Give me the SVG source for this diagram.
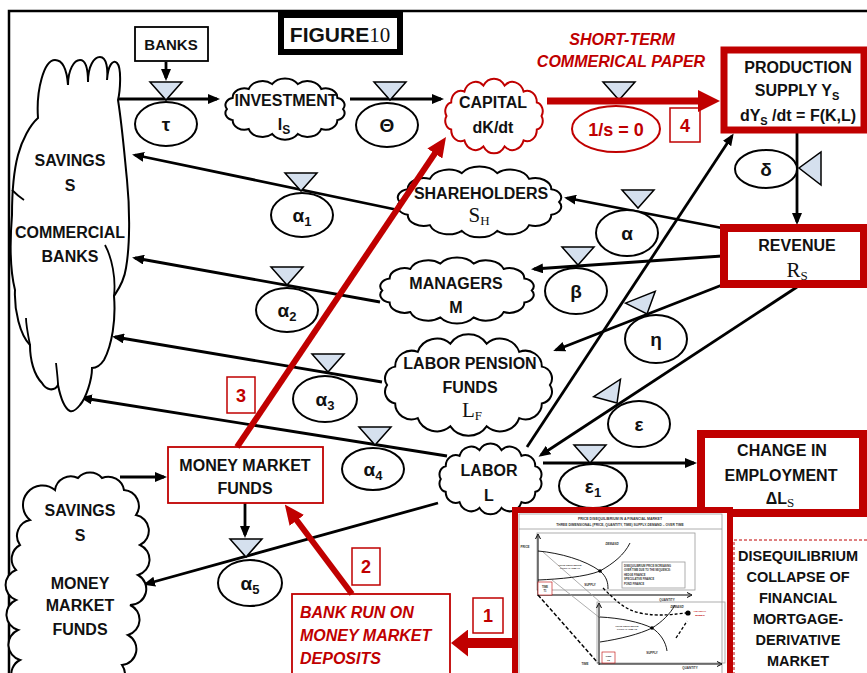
<svg xmlns="http://www.w3.org/2000/svg" width="867" height="673" viewBox="0 0 867 673">
<style>
.t{font-family:"Liberation Sans",Arial,sans-serif;font-weight:bold;font-size:16px;text-anchor:middle;fill:#111}
.g{font-size:19px}
.sr{font-family:"Liberation Serif","Times New Roman",serif;font-weight:normal}
.red{fill:#c00000}
.it{font-style:italic}
.ln{stroke:#000;stroke-width:2.8;fill:none}
.el{fill:#fff;stroke:#000;stroke-width:2}
.tri{fill:#d5e0ee;stroke:#000;stroke-width:1.5}
.cl{fill:#fff;stroke:#000;stroke-width:2}
.rb{fill:#fff;stroke:#c00000}
.tiny{font-family:"Liberation Sans",Arial,sans-serif;font-weight:bold;fill:#333}
.gl{stroke:#999;stroke-width:0.8;fill:none}
</style>
<defs>
<path id="cloud" vector-effect="non-scaling-stroke" d="M94,30 A6.8,6.8 0 0 1 89.64,40.41 A8.9,8.9 0 0 1 77.43,48.76 A10.9,10.9 0 0 1 59.79,53.4 A11.7,11.7 0 0 1 40.21,53.4 A10.9,10.9 0 0 1 22.57,48.76 A8.9,8.9 0 0 1 10.36,40.41 A6.8,6.8 0 0 1 6,30 A6.8,6.8 0 0 1 10.36,19.59 A8.9,8.9 0 0 1 22.57,11.24 A10.9,10.9 0 0 1 40.21,6.6 A11.7,11.7 0 0 1 59.79,6.6 A10.9,10.9 0 0 1 77.43,11.24 A8.9,8.9 0 0 1 89.64,19.59 A6.8,6.8 0 0 1 94,30 Z"/>
<path id="tri" d="M-16,-18 L16,-18 L0,0 Z"/>
<marker id="ak" viewBox="0 0 12 10" refX="9" refY="5" markerWidth="12" markerHeight="10" markerUnits="userSpaceOnUse" orient="auto"><path d="M0,0 L12,5 L0,10 Z" fill="#000"/></marker>
<marker id="ar" viewBox="0 0 22 22" refX="3" refY="11" markerWidth="22" markerHeight="22" markerUnits="userSpaceOnUse" orient="auto"><path d="M0,0 L22,11 L0,22 Z" fill="#c00000"/></marker>
<marker id="ar2" viewBox="0 0 20 18" refX="3" refY="9" markerWidth="20" markerHeight="18" markerUnits="userSpaceOnUse" orient="auto"><path d="M0,0 L20,9 L0,18 Z" fill="#c00000"/></marker>
<marker id="ar3" viewBox="0 0 17 27" refX="2" refY="13.5" markerWidth="17" markerHeight="27" markerUnits="userSpaceOnUse" orient="auto"><path d="M0,0 L17,13.5 L0,27 Z" fill="#c00000"/></marker>
</defs>
<rect width="867" height="673" fill="#fff"/>
<rect x="9" y="11" width="900" height="700" fill="none" stroke="#000" stroke-width="2.5"/>

<g id="connectors">
<line class="ln" x1="166" y1="62" x2="166" y2="78" marker-end="url(#ak)"/>
<line class="ln" x1="118" y1="99" x2="217" y2="99" marker-end="url(#ak)"/>
<line class="ln" x1="350" y1="99" x2="441" y2="99" marker-end="url(#ak)"/>
<line class="ln" x1="398" y1="210" x2="135" y2="155" marker-end="url(#ak)"/>
<line class="ln" x1="380" y1="302" x2="135" y2="258" marker-end="url(#ak)"/>
<line class="ln" x1="382" y1="382" x2="115" y2="337" marker-end="url(#ak)"/>
<line class="ln" x1="447" y1="456" x2="83" y2="398" marker-end="url(#ak)"/>
<line class="ln" x1="722" y1="228" x2="567" y2="198" marker-end="url(#ak)"/>
<line class="ln" x1="722" y1="256" x2="534" y2="269" marker-end="url(#ak)"/>
<line class="ln" x1="722" y1="285" x2="556" y2="350" marker-end="url(#ak)"/>
<line class="ln" x1="797" y1="287" x2="541" y2="455" marker-end="url(#ak)"/>
<line class="ln" x1="527" y1="447" x2="732" y2="136" marker-end="url(#ak)"/>
<line class="ln" x1="797" y1="133" x2="797" y2="222" marker-end="url(#ak)"/>
<line class="ln" x1="543" y1="463" x2="694" y2="463" marker-end="url(#ak)"/>
<line class="ln" x1="120" y1="477" x2="164" y2="477" marker-end="url(#ak)"/>
<line class="ln" x1="245" y1="503" x2="245" y2="535" marker-end="url(#ak)"/>
<line class="ln" x1="438" y1="503" x2="146" y2="584" marker-end="url(#ak)"/>
</g>

<g id="figure-title">
<rect x="281" y="15" width="119" height="37" fill="#fff" stroke="#000" stroke-width="6"/>
<text class="t" x="340" y="42" style="font-size:21px">FIGURE<tspan class="sr" style="font-size:21px">10</tspan></text>
</g>

<g id="banks">
<rect x="135" y="27" width="73" height="34" fill="#fff" stroke="#000" stroke-width="1.8"/>
<text class="t" x="171" y="50" style="font-size:15px">BANKS</text>
</g>

<g id="savings-commercial-banks">
<path class="cl" d="M38,118 C36,90 44,60 55,60 C64,60 67,72 68,85 C68,70 74,60 80,60 C87,60 88,72 88,82 C88,66 94,57 100,57 C107,57 108,70 107,80 C108,65 113,59 117,63 C122,68 120,92 118,100 C122,125 124,150 127,180 C130,210 130,245 126,268 C124,282 118,290 114,296 C116,320 112,345 104,360 C100,366 96,368 92,368 C92,380 86,398 80,405 C76,410 73,412 70,411 C64,408 60,395 58,385 C54,392 46,390 42,383 C34,375 30,360 30,345 C20,335 14,310 15,290 C10,270 10,240 12,215 C12,195 14,170 18,155 C22,140 30,125 38,118 Z"/>
<path d="M105,245 C112,258 116,278 114,296 M56,363 C57,372 58,380 58,385 M24,200 C18,196 14,192 12,190 M30,345 C28,335 26,325 26,318" fill="none" stroke="#000" stroke-width="1.8"/>
<text class="t" x="70" y="166">SAVINGS</text>
<text class="t" x="70" y="191">S</text>
<text class="t" x="70" y="238">COMMERCIAL</text>
<text class="t" x="70" y="262">BANKS</text>
</g>

<g id="tau">
<use href="#tri" class="tri" transform="translate(166,100)"/>
<ellipse class="el" cx="166" cy="124" rx="31" ry="22"/>
<text class="t g" x="166" y="131">τ</text>
</g>

<g id="investment">
<use href="#cloud" class="cl" transform="translate(219,77) scale(1.32,1.067)"/>
<text class="t" x="286" y="106">INVESTMENT</text>
<text class="t" x="284" y="130">I<tspan style="font-size:12px" dy="4">S</tspan></text>
</g>

<g id="theta">
<use href="#tri" class="tri" transform="translate(390,100)"/>
<ellipse class="el" cx="387" cy="125" rx="31" ry="22"/>
<text class="t g" x="387" y="132">Θ</text>
</g>

<g id="capital">
<use href="#cloud" class="cl" style="stroke:#c00000" transform="translate(440,77) scale(1.08,1.3)"/>
<text class="t" x="493" y="108">CAPITAL</text>
<text class="t" x="493" y="133">dK/dt</text>
</g>

<g id="short-term-paper">
<text class="t red it" x="622" y="45">SHORT-TERM</text>
<text class="t red it" x="621" y="67">COMMERICAL PAPER</text>
<use href="#tri" class="tri" transform="translate(619,100)"/>
<ellipse class="el" style="stroke:#c00000" cx="616" cy="129" rx="44" ry="23"/>
<text class="t red" x="616" y="136" style="font-size:18px">1/s = 0</text>
<rect x="670" y="108" width="30" height="34" fill="#fff" stroke="#c00000" stroke-width="1.5"/>
<text class="t red" x="685" y="132" style="font-size:18px">4</text>
</g>

<g id="production">
<rect x="724" y="50" width="140" height="80" fill="#fff" stroke="#c00000" stroke-width="7"/>
<text class="t" x="798" y="73">PRODUCTION</text>
<text class="t" x="797" y="96">SUPPLY Y<tspan style="font-size:11px" dy="4">S</tspan></text>
<text class="t" x="798" y="121">dY<tspan style="font-size:11px" dy="4">S</tspan><tspan dy="-4"> /dt = F(K,L)</tspan></text>
</g>

<g id="delta">
<ellipse class="el" cx="766" cy="169" rx="31" ry="19"/>
<text class="t g" x="766" y="176">δ</text>
<path class="tri" d="M821,152 L821,185 L799,168 Z"/>
</g>

<g id="revenue">
<rect x="724" y="228" width="140" height="56" fill="#fff" stroke="#c00000" stroke-width="8"/>
<text class="t" x="797" y="251">REVENUE</text>
<text class="t sr" x="797" y="277" style="font-size:21px">R<tspan style="font-size:13px" dy="3">S</tspan></text>
</g>

<g id="alpha1">
<use href="#tri" class="tri" transform="translate(301,191)"/>
<ellipse class="el" cx="302" cy="215" rx="31" ry="22"/>
<text class="t g" x="302" y="222">α<tspan style="font-size:13px" dy="4">1</tspan></text>
</g>

<g id="shareholders">
<use href="#cloud" class="cl" transform="translate(389,165) scale(1.81,1.233)"/>
<text class="t" x="481" y="199">SHAREHOLDERS</text>
<text class="t sr" x="479" y="222" style="font-size:21px">S<tspan style="font-size:13px" dy="3">H</tspan></text>
</g>

<g id="alpha">
<use href="#tri" class="tri" transform="translate(638,208)"/>
<ellipse class="el" cx="627" cy="233" rx="31" ry="23"/>
<text class="t g" x="627" y="240">α</text>
</g>

<g id="beta">
<use href="#tri" class="tri" transform="translate(578,265)"/>
<ellipse class="el" cx="576" cy="291" rx="31" ry="23"/>
<text class="t g" x="576" y="298">β</text>
</g>

<g id="managers">
<use href="#cloud" class="cl" transform="translate(372,256) scale(1.7,1.15)"/>
<text class="t" x="456" y="289">MANAGERS</text>
<text class="t" x="456" y="313">M</text>
</g>

<g id="alpha2">
<use href="#tri" class="tri" transform="translate(287,285)"/>
<ellipse class="el" cx="287" cy="310" rx="31" ry="22"/>
<text class="t g" x="287" y="317">α<tspan style="font-size:13px" dy="4">2</tspan></text>
</g>

<g id="eta">
<use href="#tri" class="tri" transform="translate(647,314) rotate(-21.6)"/>
<ellipse class="el" cx="656" cy="339" rx="31" ry="24"/>
<text class="t g" x="656" y="346">η</text>
</g>

<g id="labor-pension-funds">
<use href="#cloud" class="cl" transform="translate(376,332) scale(1.85,1.767)"/>
<text class="t" x="470" y="369">LABOR PENSION</text>
<text class="t" x="470" y="393">FUNDS</text>
<text class="t sr" x="472" y="417" style="font-size:21px">L<tspan style="font-size:13px" dy="3">F</tspan></text>
</g>

<g id="alpha3">
<use href="#tri" class="tri" transform="translate(328,372)"/>
<ellipse class="el" cx="325" cy="399" rx="32" ry="23"/>
<text class="t g" x="325" y="406">α<tspan style="font-size:13px" dy="4">3</tspan></text>
</g>

<g id="epsilon">
<use href="#tri" class="tri" transform="translate(617,403) rotate(-33.3)"/>
<ellipse class="el" cx="639" cy="424" rx="31" ry="23"/>
<text class="t g" x="639" y="431">ε</text>
</g>

<g id="alpha4">
<use href="#tri" class="tri" transform="translate(375,445)"/>
<ellipse class="el" cx="373" cy="469" rx="31" ry="21"/>
<text class="t g" x="373" y="476">α<tspan style="font-size:13px" dy="4">4</tspan></text>
</g>

<g id="labor">
<use href="#cloud" class="cl" transform="translate(434,442) scale(1.13,1.233)"/>
<text class="t" x="489" y="476">LABOR</text>
<text class="t" x="489" y="501">L</text>
</g>

<g id="epsilon1">
<use href="#tri" class="tri" transform="translate(590,463)"/>
<ellipse class="el" cx="593" cy="486" rx="34" ry="22"/>
<text class="t g" x="593" y="493">ε<tspan style="font-size:13px" dy="4">1</tspan></text>
</g>

<g id="change-in-employment">
<rect x="701" y="434" width="162" height="79" fill="#fff" stroke="#c00000" stroke-width="8"/>
<text class="t" x="782" y="456">CHANGE IN</text>
<text class="t" x="781" y="481">EMPLOYMENT</text>
<text class="t" x="780" y="504">ΔL<tspan class="sr" style="font-size:13px" dy="3">S</tspan></text>
</g>

<g id="money-market-funds">
<rect x="168" y="447" width="155" height="56" fill="#fff" stroke="#c00000" stroke-width="1.8"/>
<text class="t" x="245" y="471">MONEY MARKET</text>
<text class="t" x="245" y="494">FUNDS</text>
</g>

<g id="savings-money-market-funds">
<path class="cl" d="M30,520 A16,16 0 0 1 55,490 A16,16 0 0 1 78,478 A16,16 0 0 1 102,478 A16,16 0 0 1 124,490 A16,16 0 0 1 136,515 A16,16 0 0 1 140,545 A16,16 0 0 1 138,575 A16,16 0 0 1 130,605 A16,16 0 0 1 128,635 A16,16 0 0 1 122,665 A16,16 0 0 1 110,690 L30,690 A16,16 0 0 1 20,660 A16,16 0 0 1 18,630 A16,16 0 0 1 16,600 A16,16 0 0 1 16,570 A16,16 0 0 1 20,545 A16,16 0 0 1 30,520 Z"/>
<text class="t" x="80" y="516">SAVINGS</text>
<text class="t" x="80" y="541">S</text>
<text class="t" x="80" y="589">MONEY</text>
<text class="t" x="80" y="611">MARKET</text>
<text class="t" x="80" y="635">FUNDS</text>
</g>

<g id="alpha5">
<use href="#tri" class="tri" transform="translate(246,557)"/>
<ellipse class="el" cx="250" cy="583" rx="32" ry="23"/>
<text class="t g" x="250" y="590">α<tspan style="font-size:13px" dy="4">5</tspan></text>
</g>

<g id="bank-run">
<rect x="292" y="594" width="158" height="100" fill="#fff" stroke="#c00000" stroke-width="1.8"/>
<text class="t red it" x="300" y="618" style="text-anchor:start">BANK RUN ON</text>
<text class="t red it" x="300" y="641" style="text-anchor:start">MONEY MARKET</text>
<text class="t red it" x="300" y="664" style="text-anchor:start">DEPOSITS</text>
</g>

<g id="label-3">
<rect x="227" y="377" width="28" height="36" fill="#fff" stroke="#c00000" stroke-width="1.5"/>
<text class="t red" x="241" y="402" style="font-size:18px">3</text>
</g>
<g id="label-2">
<rect x="352" y="548" width="28" height="37" fill="#fff" stroke="#c00000" stroke-width="1.5"/>
<text class="t red" x="366" y="573" style="font-size:18px">2</text>
</g>
<g id="label-1">
<rect x="473" y="598" width="30" height="35" fill="#fff" stroke="#c00000" stroke-width="1.5"/>
<text class="t red" x="488" y="622" style="font-size:18px">1</text>
</g>

<g id="disequilibrium">
<rect x="734" y="540" width="140" height="140" fill="#fff" stroke="#c00000" stroke-width="1" stroke-dasharray="3,2"/>
<text class="t" x="798" y="561" style="font-size:14.5px">DISEQUILIBRIUM</text>
<text class="t" x="798" y="582" style="font-size:14.5px">COLLAPSE OF</text>
<text class="t" x="798" y="603" style="font-size:14.5px">FINANCIAL</text>
<text class="t" x="798" y="624" style="font-size:14.5px">MORTGAGE-</text>
<text class="t" x="798" y="645" style="font-size:14.5px">DERIVATIVE</text>
<text class="t" x="798" y="666" style="font-size:14.5px">MARKET</text>
</g>

<g id="inset">
<rect x="515" y="510" width="215" height="200" fill="#fff" stroke="#c00000" stroke-width="6"/>
<rect x="519" y="514" width="203" height="170" class="gl"/>
<line x1="519" y1="529" x2="722" y2="529" class="gl"/>
<text class="tiny" x="620" y="519.5" text-anchor="middle" style="font-size:3.5px">PRICE DISEQUILIBRIUM IN A FINANCIAL MARKET</text>
<text class="tiny" x="620" y="525.5" text-anchor="middle" style="font-size:3.3px">THREE DIMENSIONAL (PRICE, QUANTITY, TIME) SUPPLY-DEMAND – OVER TIME</text>
<rect x="537" y="533" width="158" height="57" class="gl"/>
<path d="M538,596 L538,536 M535.5,539 L538,534 L540.5,539 M538,595 L690,595 M687,592.5 L692,595 L687,597.5" stroke="#000" stroke-width="1" fill="none"/>
<path d="M543,552 L600,602 M552,580 L600,618" class="gl"/>
<path d="M538,551 C560,553 585,560 600,571 C607,577 608,583 608,589" stroke="#000" stroke-width="0.9" fill="none"/>
<path d="M538,580 C560,579 585,577 600,571 C614,563 624,555 630,543" stroke="#000" stroke-width="0.9" fill="none"/>
<circle cx="600" cy="571" r="1.8" fill="#000"/>
<text class="tiny" x="525" y="548" text-anchor="middle" style="font-size:3px">PRICE</text>
<text class="tiny" x="612" y="545" text-anchor="middle" style="font-size:3px;font-style:italic">DEMAND</text>
<text class="tiny" x="570" y="566" text-anchor="middle" style="font-size:2.3px">PRICE EQUILIBRIUM</text>
<text class="tiny" x="570" y="569" text-anchor="middle" style="font-size:2.3px">POINT AT TIME T1</text>
<rect x="622" y="562" width="63" height="26" class="gl"/>
<text class="tiny" x="624" y="566.5" style="font-size:2.6px">DISEQUILIBRIUM PRICE INCREASING</text>
<text class="tiny" x="624" y="571" style="font-size:2.6px">OVER TIME DUE TO THE SEQUENCE:</text>
<text class="tiny" x="624" y="575.5" style="font-size:2.6px">HEDGE FINANCE</text>
<text class="tiny" x="624" y="580" style="font-size:2.6px">SPECULATIVE FINANCE</text>
<text class="tiny" x="624" y="584.5" style="font-size:2.6px">PONZI FINANCE</text>
<text class="tiny" x="590" y="586" text-anchor="middle" style="font-size:3px">SUPPLY</text>
<rect x="538" y="582" width="14" height="13" fill="#fff" stroke="#c00000" stroke-width="0.6"/>
<text class="tiny" x="545" y="587.5" text-anchor="middle" style="font-size:2.6px">TIME</text>
<text class="tiny" x="545" y="591.5" text-anchor="middle" style="font-size:2.6px">T1</text>
<text class="tiny" x="667" y="601" text-anchor="middle" style="font-size:3px">QUANTITY</text>
<path d="M538,595 L598,663" stroke="#000" stroke-width="1.4" stroke-dasharray="4,2" fill="none"/>
<text class="tiny" x="585" y="665" text-anchor="middle" style="font-size:3px">TIME</text>
<rect x="597" y="602" width="128" height="61" class="gl"/>
<path d="M599,665 L599,605 M596.5,608 L599,603 L601.5,608 M599,664 L720,664 M717,661.5 L722,664 L717,666.5" stroke="#000" stroke-width="1" fill="none"/>
<path d="M600,617 C620,618 640,622 652,628 C660,633 666,642 667,651" stroke="#000" stroke-width="0.9" fill="none"/>
<path d="M600,642 C620,639 640,634 652,628 C662,622 670,614 675,605" stroke="#000" stroke-width="0.9" fill="none"/>
<circle cx="652" cy="628" r="1.8" fill="#000"/>
<path d="M603,588 C615,600 625,610 640,613 C660,617 675,614 686,613" stroke="#000" stroke-width="1.3" stroke-dasharray="3,2" fill="none"/>
<path d="M676,638 C680,632 684,626 687,621" stroke="#000" stroke-width="1.3" stroke-dasharray="3,2" fill="none"/>
<circle cx="688" cy="613" r="2.6" fill="#000"/>
<text class="tiny" x="700" y="612" text-anchor="middle" style="font-size:2.3px;fill:#c00000">FINANCIAL</text>
<text class="tiny" x="700" y="615.5" text-anchor="middle" style="font-size:2.3px;fill:#c00000">BUBBLE</text>
<text class="tiny" x="677" y="608" text-anchor="middle" style="font-size:3px;font-style:italic">DEMAND</text>
<text class="tiny" x="627" y="627" text-anchor="middle" style="font-size:2.3px">PRICE EQUILIBRIUM</text>
<text class="tiny" x="627" y="630" text-anchor="middle" style="font-size:2.3px">POINT AT TIME T2</text>
<text class="tiny" x="652" y="654" text-anchor="middle" style="font-size:3px">SUPPLY</text>
<rect x="602" y="652" width="13" height="11" fill="#fff" stroke="#c00000" stroke-width="0.6"/>
<text class="tiny" x="608.5" y="657" text-anchor="middle" style="font-size:2.5px">TIME</text>
<text class="tiny" x="608.5" y="661" text-anchor="middle" style="font-size:2.5px">T2</text>
<text class="tiny" x="690" y="669" text-anchor="middle" style="font-size:3px">QUANTITY</text>
</g>

<g id="connectors-red">
<line x1="547" y1="101" x2="701" y2="101" stroke="#c00000" stroke-width="7" marker-end="url(#ar)"/>
<line x1="237" y1="447" x2="436.5" y2="151" stroke="#c00000" stroke-width="6" marker-end="url(#ar2)"/>
<line x1="352" y1="594" x2="295" y2="518" stroke="#c00000" stroke-width="6" marker-end="url(#ar2)"/>
<line x1="513" y1="643" x2="466" y2="643" stroke="#c00000" stroke-width="10" marker-end="url(#ar3)"/>
</g>
</svg>
